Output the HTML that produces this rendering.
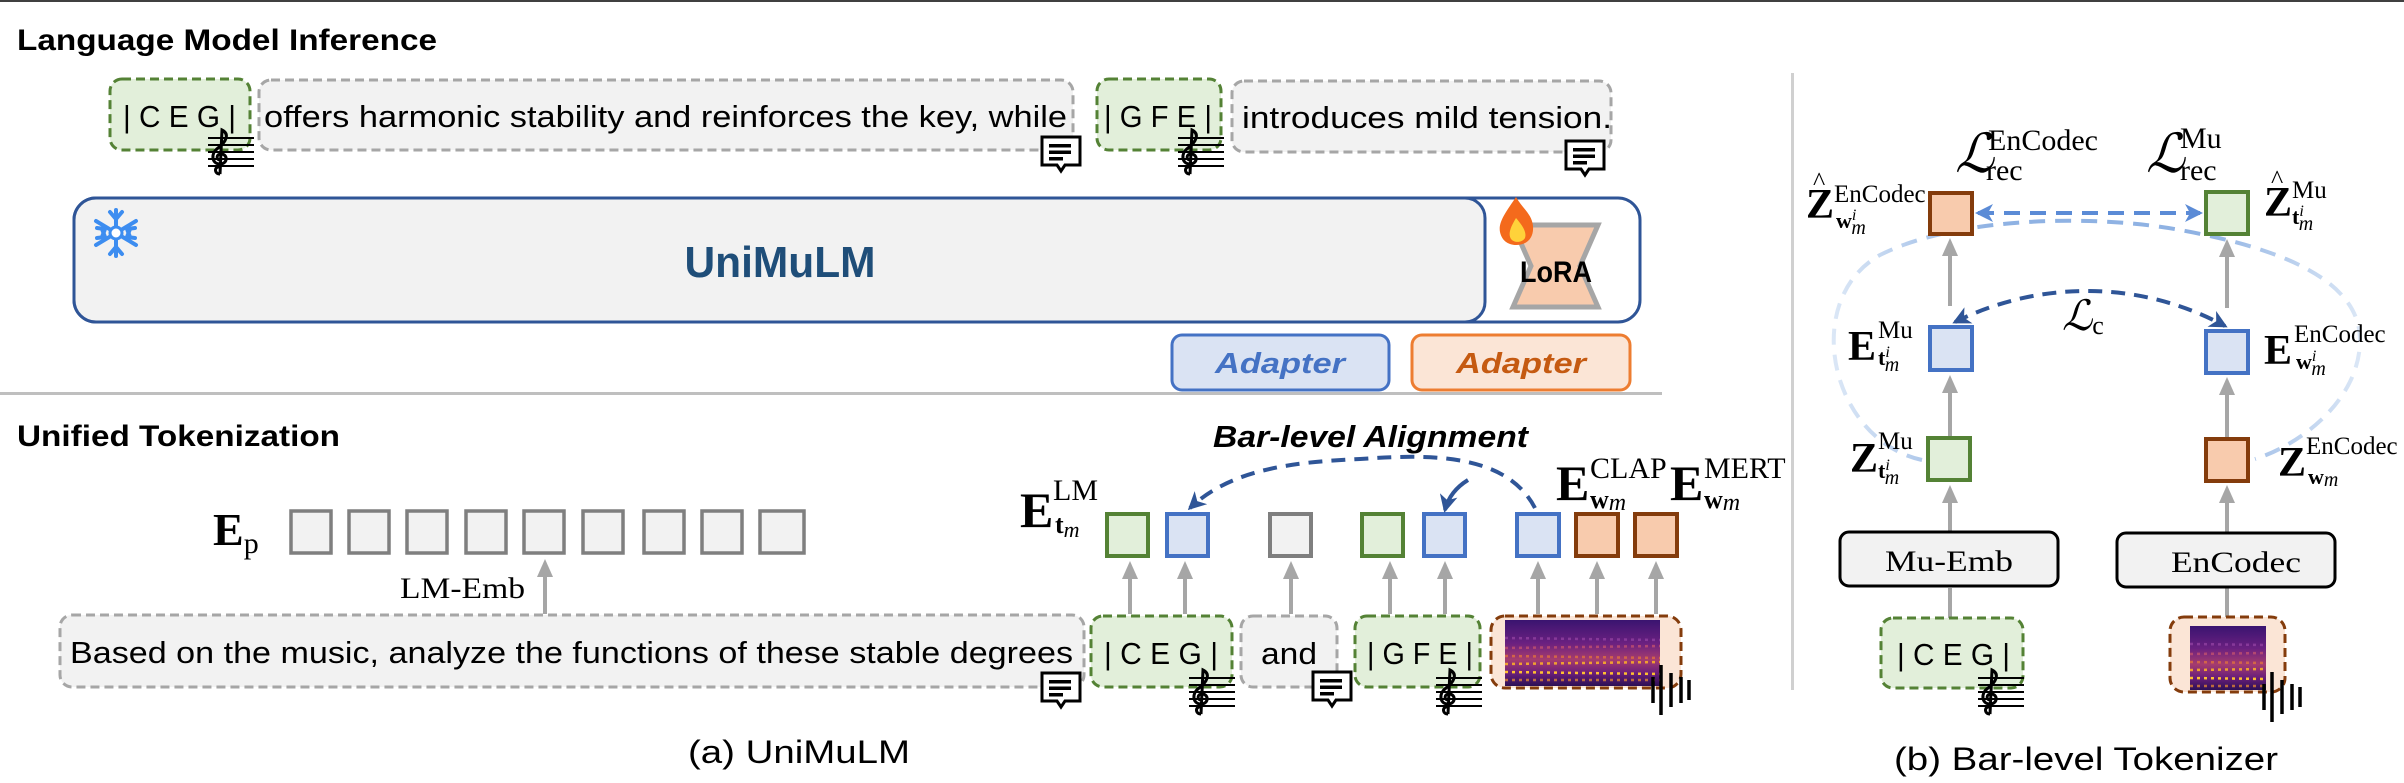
<!DOCTYPE html>
<html><head><meta charset="utf-8"><style>
html,body{margin:0;padding:0;background:#fff;}
svg{display:block;}
.sans{font-family:"Liberation Sans",sans-serif;}
.serif{font-family:"Liberation Serif",serif;}
</style></head><body>
<svg width="2404" height="783" viewBox="0 0 2404 783" xmlns="http://www.w3.org/2000/svg">
<defs>
<marker id="ag" markerWidth="18" markerHeight="18" refX="9" refY="9" orient="auto" markerUnits="userSpaceOnUse"><path d="M0,1 L18,9 L0,17 z" fill="#a6a6a6"/></marker>
<marker id="ab" markerWidth="18" markerHeight="18" refX="15" refY="9" orient="auto" markerUnits="userSpaceOnUse"><path d="M0,0 L18,9 L0,18 L5,9 z" fill="#2f5597"/></marker>
<marker id="abs" markerWidth="18" markerHeight="18" refX="3" refY="9" orient="auto" markerUnits="userSpaceOnUse"><path d="M18,0 L0,9 L18,18 L13,9 z" fill="#2f5597"/></marker>
<marker id="al" markerWidth="18" markerHeight="18" refX="15" refY="9" orient="auto" markerUnits="userSpaceOnUse"><path d="M0,0 L18,9 L0,18 L5,9 z" fill="#5b8bd6"/></marker>
<marker id="als" markerWidth="18" markerHeight="18" refX="3" refY="9" orient="auto" markerUnits="userSpaceOnUse"><path d="M18,0 L0,9 L18,18 L13,9 z" fill="#5b8bd6"/></marker>
<linearGradient id="spec" x1="0" y1="0" x2="0" y2="1">
<stop offset="0" stop-color="#3a1470"/><stop offset="0.35" stop-color="#6a2080"/><stop offset="0.6" stop-color="#a53c6e"/><stop offset="0.8" stop-color="#6b1f7a"/><stop offset="1" stop-color="#2c0f55"/></linearGradient>
<linearGradient id="fade" x1="0" y1="0" x2="1" y2="0"><stop offset="0" stop-color="#dbe7f6"/><stop offset="0.3" stop-color="#8fb2e3"/><stop offset="0.7" stop-color="#8fb2e3"/><stop offset="1" stop-color="#dbe7f6"/></linearGradient>
<g id="bubble"><path d="M2,2 H40 V30 H25 L21,36 L17,30 H2 Z" fill="#fff" stroke="#000" stroke-width="3"/><rect x="9" y="9" width="22" height="3.5" fill="#000"/><rect x="9" y="15.5" width="22" height="3.5" fill="#000"/><rect x="9" y="22" width="14" height="3.5" fill="#000"/></g>
<g id="clef"><g stroke="#000" stroke-width="2"><line x1="0" y1="10" x2="46" y2="10"/><line x1="0" y1="17" x2="46" y2="17"/><line x1="0" y1="24" x2="46" y2="24"/><line x1="0" y1="31" x2="46" y2="31"/><line x1="0" y1="38" x2="46" y2="38"/></g><path d="M12,46 C6,46 6,38 12,39 M12,46 L14,2 C22,6 18,14 10,20 C2,26 4,36 12,36 C20,36 20,26 13,26 C8,26 8,32 12,32" fill="none" stroke="#000" stroke-width="3"/></g>
<g id="wave" stroke="#000" stroke-width="3.5"><line x1="2" y1="12" x2="2" y2="38"/><line x1="10" y1="0" x2="10" y2="50"/><line x1="20" y1="8" x2="20" y2="42"/><line x1="30" y1="12" x2="30" y2="38"/><line x1="38" y1="15" x2="38" y2="35"/></g>
<g id="specdots" stroke-width="2.5" stroke-dasharray="3,4">
<line x1="0" y1="52" x2="155" y2="54" stroke="#ffc030"/>
<line x1="0" y1="44" x2="155" y2="42" stroke="#f0a030"/>
<line x1="0" y1="36" x2="155" y2="38" stroke="#e07040" opacity="0.8"/>
<line x1="0" y1="28" x2="155" y2="26" stroke="#c05070" opacity="0.8"/>
<line x1="0" y1="18" x2="155" y2="20" stroke="#9040a0" opacity="0.8"/>
<line x1="0" y1="60" x2="155" y2="60" stroke="#f09030" opacity="0.7"/></g>
</defs>

<rect x="0" y="0" width="2404" height="2" fill="#404040"/>

<text x="17" y="50" class="sans" font-size="30" font-weight="bold" textLength="420" lengthAdjust="spacingAndGlyphs">Language Model Inference</text>
<text x="17" y="446" class="sans" font-size="30" font-weight="bold" textLength="323" lengthAdjust="spacingAndGlyphs">Unified Tokenization</text>

<rect x="110" y="79" width="140" height="71" rx="12" fill="#e2efda" stroke="#548235" stroke-width="3" stroke-dasharray="9,5"/>
<text x="123" y="127" class="sans" font-size="31" textLength="113" lengthAdjust="spacingAndGlyphs">| C E G |</text>
<use href="#clef" x="208" y="128"/>
<rect x="259" y="80" width="814" height="70" rx="12" fill="#f2f2f2" stroke="#a6a6a6" stroke-width="3" stroke-dasharray="9,5"/>
<text x="264" y="127" class="sans" font-size="31" textLength="803" lengthAdjust="spacingAndGlyphs">offers harmonic stability and reinforces the key, while</text>
<use href="#bubble" x="1040" y="135"/>
<rect x="1097" y="79" width="124" height="71" rx="12" fill="#e2efda" stroke="#548235" stroke-width="3" stroke-dasharray="9,5"/>
<text x="1104" y="127" class="sans" font-size="31" textLength="108" lengthAdjust="spacingAndGlyphs">| G F E |</text>
<use href="#clef" x="1178" y="128"/>
<rect x="1232" y="81" width="379" height="71" rx="12" fill="#f2f2f2" stroke="#a6a6a6" stroke-width="3" stroke-dasharray="9,5"/>
<text x="1242" y="128" class="sans" font-size="31" textLength="370" lengthAdjust="spacingAndGlyphs">introduces mild tension.</text>
<use href="#bubble" x="1564" y="139"/>

<rect x="74" y="198" width="1566" height="124" rx="22" fill="#fff" stroke="#2f5597" stroke-width="3"/>
<path d="M96,198 H1465 A20,20 0 0 1 1485,218 V302 A20,20 0 0 1 1465,322 H96 A22,22 0 0 1 74,300 V220 A22,22 0 0 1 96,198 Z" fill="#f2f2f2" stroke="#2f5597" stroke-width="3"/>
<text x="780" y="277" class="sans" font-size="44" font-weight="bold" fill="#1f4e79" text-anchor="middle" textLength="191" lengthAdjust="spacingAndGlyphs">UniMuLM</text>
<g stroke="#3d8df0" stroke-width="4" stroke-linecap="round" fill="none">
<line x1="116" y1="210" x2="116" y2="256"/><line x1="96" y1="221" x2="136" y2="245"/><line x1="96" y1="245" x2="136" y2="221"/>
<path d="M110,212 L116,219 L122,212 M110,254 L116,247 L122,254 M97,228 L105,229 L102,237 M135,238 L127,237 L130,229 M97,238 L105,237 L102,229 M135,228 L127,229 L130,237"/></g>
<circle cx="116" cy="233" r="6" fill="#fff" stroke="#3d8df0" stroke-width="3"/>
<path d="M1513,225 H1598 L1580,266 L1598,307 H1513 L1531,266 Z" fill="#f8cbad" stroke="#a6a6a6" stroke-width="5"/>
<text x="1556" y="282" class="sans" font-size="30" font-weight="bold" text-anchor="middle" textLength="72" lengthAdjust="spacingAndGlyphs">LoRA</text>
<path d="M1516,197 C1506,212 1498,222 1500,232 C1502,242 1510,245 1516,245 C1527,245 1534,238 1533,226 C1532,214 1522,208 1516,197 Z" fill="#f46a1c"/>
<path d="M1516,218 C1510,228 1508,234 1511,239 C1514,243 1522,243 1525,238 C1527,232 1522,225 1516,218 Z" fill="#ffd23a"/>

<rect x="1172" y="335" width="217" height="55" rx="10" fill="#dae3f3" stroke="#4472c4" stroke-width="3"/>
<text x="1280" y="373" class="sans" font-size="29" font-weight="bold" font-style="italic" fill="#4472c4" text-anchor="middle" textLength="130" lengthAdjust="spacingAndGlyphs">Adapter</text>
<rect x="1412" y="335" width="218" height="55" rx="10" fill="#fbe5d6" stroke="#ed7d31" stroke-width="3"/>
<text x="1521" y="373" class="sans" font-size="29" font-weight="bold" font-style="italic" fill="#c55a11" text-anchor="middle" textLength="130" lengthAdjust="spacingAndGlyphs">Adapter</text>

<rect x="0" y="392" width="1662" height="3" fill="#bfbfbf"/>
<rect x="1791" y="73" width="3" height="617" fill="#d0d0d0"/>

<text x="213" y="545" class="serif" font-size="46" font-weight="bold">E<tspan font-size="30" dy="8" font-weight="normal">p</tspan></text>
<g fill="#f2f2f2" stroke="#7f7f7f" stroke-width="3.5">
<rect x="291" y="511" width="40" height="42"/><rect x="349" y="511" width="40" height="42"/><rect x="407" y="511" width="40" height="42"/><rect x="466" y="511" width="40" height="42"/><rect x="524" y="511" width="40" height="42"/><rect x="583" y="511" width="40" height="42"/><rect x="644" y="511" width="40" height="42"/><rect x="702" y="511" width="40" height="42"/><rect x="760" y="511" width="44" height="42"/></g>
<line x1="545" y1="614" x2="545" y2="568" stroke="#a6a6a6" stroke-width="4" marker-end="url(#ag)"/>
<text x="400" y="598" class="serif" font-size="30" textLength="125" lengthAdjust="spacingAndGlyphs">LM-Emb</text>

<rect x="60" y="615" width="1024" height="72" rx="12" fill="#f2f2f2" stroke="#a6a6a6" stroke-width="3" stroke-dasharray="9,5"/>
<text x="70" y="663" class="sans" font-size="31" textLength="1003" lengthAdjust="spacingAndGlyphs">Based on the music, analyze the functions of these stable degrees</text>
<use href="#bubble" x="1040" y="671"/>
<rect x="1091" y="616" width="141" height="71" rx="12" fill="#e2efda" stroke="#548235" stroke-width="3" stroke-dasharray="9,5"/>
<text x="1104" y="664" class="sans" font-size="31" textLength="114" lengthAdjust="spacingAndGlyphs">| C E G |</text>
<use href="#clef" x="1189" y="668"/>
<rect x="1241" y="616" width="96" height="71" rx="12" fill="#f2f2f2" stroke="#a6a6a6" stroke-width="3" stroke-dasharray="9,5"/>
<text x="1261" y="664" class="sans" font-size="31" textLength="56" lengthAdjust="spacingAndGlyphs">and</text>
<use href="#bubble" x="1311" y="670"/>
<rect x="1355" y="616" width="125" height="71" rx="12" fill="#e2efda" stroke="#548235" stroke-width="3" stroke-dasharray="9,5"/>
<text x="1367" y="664" class="sans" font-size="31" textLength="106" lengthAdjust="spacingAndGlyphs">| G F E |</text>
<use href="#clef" x="1436" y="668"/>
<rect x="1491" y="616" width="190" height="72" rx="14" fill="#fbe5d6" stroke="#843c0c" stroke-width="3" stroke-dasharray="9,5"/>
<rect x="1505" y="620" width="155" height="66" fill="url(#spec)"/>
<use href="#specdots" x="1505" y="620"/>
<use href="#wave" x="1651" y="665"/>

<g stroke-width="4">
<rect x="1107" y="514" width="41" height="42" fill="#e2efda" stroke="#548235"/>
<rect x="1167" y="514" width="41" height="42" fill="#dae3f3" stroke="#4472c4"/>
<rect x="1270" y="514" width="41" height="42" fill="#f2f2f2" stroke="#7f7f7f"/>
<rect x="1362" y="514" width="41" height="42" fill="#e2efda" stroke="#548235"/>
<rect x="1424" y="514" width="41" height="42" fill="#dae3f3" stroke="#4472c4"/>
<rect x="1517" y="514" width="42" height="42" fill="#dae3f3" stroke="#4472c4"/>
<rect x="1576" y="514" width="42" height="42" fill="#f8cbad" stroke="#843c0c"/>
<rect x="1635" y="514" width="42" height="42" fill="#f8cbad" stroke="#843c0c"/></g>
<g stroke="#a6a6a6" stroke-width="4" marker-end="url(#ag)">
<line x1="1130" y1="614" x2="1130" y2="570"/><line x1="1185" y1="614" x2="1185" y2="570"/><line x1="1291" y1="614" x2="1291" y2="570"/><line x1="1390" y1="614" x2="1390" y2="570"/><line x1="1445" y1="614" x2="1445" y2="570"/><line x1="1538" y1="614" x2="1538" y2="570"/><line x1="1597" y1="614" x2="1597" y2="570"/><line x1="1656" y1="614" x2="1656" y2="570"/></g>

<text x="1213" y="447" class="sans" font-size="31" font-weight="bold" font-style="italic" textLength="315" lengthAdjust="spacingAndGlyphs">Bar-level Alignment</text>
<path d="M1535,508 C1505,450 1420,455 1360,459 C1290,462 1230,470 1190,508" fill="none" stroke="#2f5597" stroke-width="4" stroke-dasharray="14,9" marker-end="url(#ab)"/>
<path d="M1468,480 C1455,488 1448,498 1445,510" fill="none" stroke="#2f5597" stroke-width="4" marker-end="url(#ab)"/>

<text x="1020" y="527" class="serif" font-size="50" font-weight="bold">E</text>
<text x="1053" y="500" class="serif" font-size="30">LM</text>
<text x="1055" y="533" class="serif" font-size="26" font-weight="bold">t<tspan font-style="italic" font-weight="normal" font-size="22" dy="4">m</tspan></text>
<text x="1556" y="500" class="serif" font-size="50" font-weight="bold">E</text>
<text x="1590" y="478" class="serif" font-size="30">CLAP</text>
<text x="1590" y="508" class="serif" font-size="26" font-weight="bold">w<tspan font-style="italic" font-weight="normal" font-size="24" dy="2">m</tspan></text>
<text x="1670" y="500" class="serif" font-size="50" font-weight="bold">E</text>
<text x="1704" y="478" class="serif" font-size="30">MERT</text>
<text x="1704" y="508" class="serif" font-size="26" font-weight="bold">w<tspan font-style="italic" font-weight="normal" font-size="24" dy="2">m</tspan></text>

<text x="799" y="763" class="sans" font-size="32" text-anchor="middle" textLength="222" lengthAdjust="spacingAndGlyphs">(a) UniMuLM</text>

<!-- RIGHT PANEL -->
<path d="M1922,460 C1830,440 1800,300 1880,255 C1960,215 2100,215 2180,230 C2280,248 2360,280 2360,340 C2360,400 2300,445 2255,459" fill="none" stroke="url(#fade)" stroke-width="4" stroke-dasharray="16,10"/>
<line x1="1978" y1="213" x2="2200" y2="213" stroke="#5b8bd6" stroke-width="4" stroke-dasharray="16,10" marker-start="url(#als)" marker-end="url(#al)"/>
<path d="M1955,322 C2040,280 2140,280 2225,326" fill="none" stroke="#2f5597" stroke-width="4" stroke-dasharray="14,9" marker-start="url(#abs)" marker-end="url(#ab)"/>

<g stroke="#a6a6a6" stroke-width="4">
<line x1="1950" y1="618" x2="1950" y2="588"/><line x1="2227" y1="618" x2="2227" y2="588"/>
<line x1="1950" y1="531" x2="1950" y2="494" marker-end="url(#ag)"/>
<line x1="2227" y1="532" x2="2227" y2="494" marker-end="url(#ag)"/>
<line x1="1950" y1="436" x2="1950" y2="384" marker-end="url(#ag)"/>
<line x1="2227" y1="437" x2="2227" y2="386" marker-end="url(#ag)"/>
<line x1="1950" y1="306" x2="1950" y2="247" marker-end="url(#ag)"/>
<line x1="2227" y1="308" x2="2227" y2="248" marker-end="url(#ag)"/></g>
<g stroke-width="4">
<rect x="1930" y="193" width="42" height="41" fill="#f8cbad" stroke="#843c0c"/>
<rect x="2206" y="192" width="42" height="42" fill="#e2efda" stroke="#548235"/>
<rect x="1930" y="327" width="42" height="43" fill="#dae3f3" stroke="#4472c4"/>
<rect x="2206" y="331" width="42" height="42" fill="#dae3f3" stroke="#4472c4"/>
<rect x="1928" y="438" width="42" height="42" fill="#e2efda" stroke="#548235"/>
<rect x="2206" y="439" width="42" height="42" fill="#f8cbad" stroke="#843c0c"/></g>

<rect x="1840" y="532" width="218" height="54" rx="9" fill="#f2f2f2" stroke="#000" stroke-width="3"/>
<text x="1949" y="571" class="serif" font-size="30" text-anchor="middle" textLength="128" lengthAdjust="spacingAndGlyphs">Mu-Emb</text>
<rect x="2117" y="533" width="218" height="54" rx="9" fill="#f2f2f2" stroke="#000" stroke-width="3"/>
<text x="2236" y="572" class="serif" font-size="30" text-anchor="middle" textLength="130" lengthAdjust="spacingAndGlyphs">EnCodec</text>
<rect x="1881" y="618" width="142" height="70" rx="12" fill="#e2efda" stroke="#548235" stroke-width="3" stroke-dasharray="9,5"/>
<text x="1897" y="665" class="sans" font-size="31" textLength="113" lengthAdjust="spacingAndGlyphs">| C E G |</text>
<use href="#clef" x="1978" y="668"/>
<rect x="2170" y="617" width="115" height="75" rx="14" fill="#fbe5d6" stroke="#843c0c" stroke-width="3" stroke-dasharray="9,5"/>
<rect x="2190" y="626" width="76" height="64" fill="url(#spec)"/>
<svg x="2190" y="626" width="76" height="64"><use href="#specdots" x="0" y="0"/></svg>
<use href="#wave" x="2262" y="672"/>

<!-- right labels -->
<text x="1955" y="172" class="serif" font-size="54" font-style="italic">ℒ</text>
<text x="1988" y="150" class="serif" font-size="30">EnCodec</text>
<text x="1986" y="180" class="serif" font-size="30">rec</text>
<text x="2146" y="172" class="serif" font-size="54" font-style="italic">ℒ</text>
<text x="2180" y="148" class="serif" font-size="30">Mu</text>
<text x="2180" y="180" class="serif" font-size="30">rec</text>
<text x="1806" y="218" class="serif" font-size="42" font-weight="bold">Z</text>
<text x="1813" y="190" class="serif" font-size="26">^</text>
<text x="1834" y="202" class="serif" font-size="25">EnCodec</text>
<text x="1836" y="228" class="serif" font-size="22" font-weight="bold">w<tspan font-style="italic" font-weight="normal" font-size="16" dy="-8">i</tspan><tspan font-style="italic" font-weight="normal" font-size="20" dx="-5" dy="14">m</tspan></text>
<text x="2264" y="216" class="serif" font-size="42" font-weight="bold">Z</text>
<text x="2271" y="188" class="serif" font-size="26">^</text>
<text x="2292" y="198" class="serif" font-size="25">Mu</text>
<text x="2292" y="224" class="serif" font-size="22" font-weight="bold">t<tspan font-style="italic" font-weight="normal" font-size="16" dy="-8">i</tspan><tspan font-style="italic" font-weight="normal" font-size="20" dx="-5" dy="14">m</tspan></text>
<text x="1848" y="360" class="serif" font-size="42" font-weight="bold">E</text>
<text x="1878" y="338" class="serif" font-size="25">Mu</text>
<text x="1878" y="365" class="serif" font-size="22" font-weight="bold">t<tspan font-style="italic" font-weight="normal" font-size="16" dy="-8">i</tspan><tspan font-style="italic" font-weight="normal" font-size="20" dx="-5" dy="14">m</tspan></text>
<text x="2062" y="330" class="serif" font-size="42" font-style="italic">ℒ<tspan font-size="26" font-style="normal" dy="4">c</tspan></text>
<text x="2264" y="364" class="serif" font-size="42" font-weight="bold">E</text>
<text x="2294" y="342" class="serif" font-size="25">EnCodec</text>
<text x="2296" y="369" class="serif" font-size="22" font-weight="bold">w<tspan font-style="italic" font-weight="normal" font-size="16" dy="-8">i</tspan><tspan font-style="italic" font-weight="normal" font-size="20" dx="-5" dy="14">m</tspan></text>
<text x="1850" y="472" class="serif" font-size="42" font-weight="bold">Z</text>
<text x="1878" y="449" class="serif" font-size="25">Mu</text>
<text x="1878" y="478" class="serif" font-size="22" font-weight="bold">t<tspan font-style="italic" font-weight="normal" font-size="16" dy="-8">i</tspan><tspan font-style="italic" font-weight="normal" font-size="20" dx="-5" dy="14">m</tspan></text>
<text x="2278" y="476" class="serif" font-size="42" font-weight="bold">Z</text>
<text x="2306" y="454" class="serif" font-size="25">EnCodec</text>
<text x="2308" y="484" class="serif" font-size="22" font-weight="bold">w<tspan font-style="italic" font-weight="normal" font-size="20" dy="2">m</tspan></text>

<text x="2086" y="770" class="sans" font-size="32" text-anchor="middle" textLength="384" lengthAdjust="spacingAndGlyphs">(b) Bar-level Tokenizer</text>
</svg>
</body></html>
